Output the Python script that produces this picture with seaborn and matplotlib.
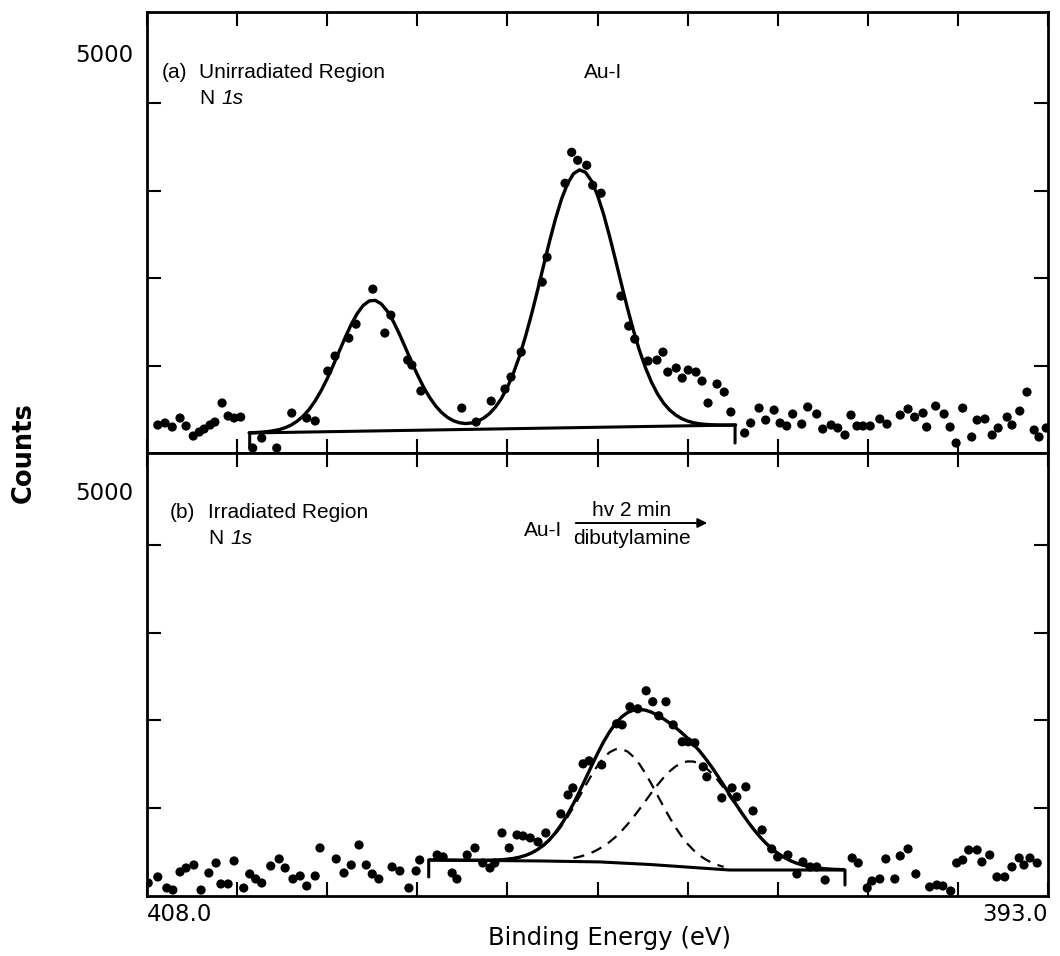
import matplotlib
matplotlib.use("Agg")
import matplotlib.pyplot as plt
import seaborn as sns

# ---------------- data ----------------
# (a) unirradiated region, measured points
top_ev = [407.82, 407.70, 407.58, 407.45, 407.35, 407.23, 407.13, 407.05, 406.95, 406.87, 406.75, 406.65, 406.55, 406.44,
          406.24, 406.09, 405.84, 405.59, 405.34, 405.20,
          404.99, 404.87, 404.64, 404.52, 404.24, 404.04, 403.94, 403.66, 403.59, 403.44,
          402.76, 402.52, 402.27, 402.04, 401.94, 401.77, 401.42, 401.34, 401.04, 400.93, 400.83, 400.68, 400.58, 400.44,
          400.11, 399.98, 399.88, 399.66, 399.51, 399.41, 399.33, 399.19, 399.09, 398.99, 398.86, 398.76, 398.66, 398.51, 398.39, 398.28,
          398.05, 397.95, 397.81, 397.70,
          397.56, 397.46, 397.35, 397.25, 397.10, 397.00, 396.85, 396.75, 396.61, 396.50, 396.38, 396.28, 396.18, 396.08, 395.96,
          395.80, 395.68, 395.46, 395.33, 395.22, 395.08, 395.02, 394.87, 394.73, 394.63, 394.53, 394.42, 394.27, 394.18, 394.05,
          393.93, 393.83, 393.68, 393.60, 393.47, 393.35, 393.23, 393.15, 393.03]
top_counts = [320, 343, 297, 400, 309, 194, 240, 274, 320, 354, 572, 423, 400, 411,
              57, 171, 57, 457, 400, 366,
              937, 1109, 1314, 1474, 1875, 1372, 1577, 1063, 1006, 709,
              514, 354, 594, 732, 869, 1154, 1955, 2240, 3086, 3440, 3349, 3292, 3063, 2972,
              1795, 1452, 1303, 1052, 1063, 1154, 926, 972, 857, 949, 926, 823, 572, 789, 697, 469,
              229, 343, 514, 377,
              491, 343, 309, 446, 331, 526, 446, 274, 320, 286, 206, 434, 309, 309, 309,
              389, 331, 434, 503, 411, 457, 297, 537, 446, 297, 114, 514, 183, 377, 389,
              206, 286, 411, 320, 480, 697, 263, 183, 286]

# (a) fitted envelope
top_fit_ev = [406.3, 406.2, 406.1, 406.0, 405.9, 405.8, 405.7, 405.6, 405.5, 405.4,
              405.3, 405.2, 405.1, 405.0, 404.9, 404.8, 404.7, 404.6, 404.5, 404.4,
              404.3, 404.2, 404.1, 404.0, 403.9, 403.8, 403.7, 403.6, 403.5, 403.4,
              403.3, 403.2, 403.1, 403.0, 402.9, 402.8, 402.7, 402.6, 402.5, 402.4,
              402.3, 402.2, 402.1, 402.0, 401.9, 401.8, 401.7, 401.6, 401.5, 401.4,
              401.3, 401.2, 401.1, 401.0, 400.9, 400.8, 400.7, 400.6, 400.5, 400.4,
              400.3, 400.2, 400.1, 400.0, 399.9, 399.8, 399.7, 399.6, 399.5, 399.4,
              399.3, 399.2, 399.1, 399.0, 398.9, 398.8, 398.7, 398.6, 398.5, 398.4,
              398.3, 398.2]
top_fit_counts = [231, 234, 238, 244, 254, 268, 289, 320, 364, 422,
                  499, 597, 714, 851, 1003, 1163, 1323, 1471, 1596, 1689,
                  1740, 1746, 1706, 1623, 1506, 1364, 1208, 1049, 898, 760,
                  641, 543, 466, 409, 369, 346, 337, 343, 362, 397,
                  450, 524, 624, 752, 913, 1105, 1330, 1582, 1855, 2138,
                  2417, 2677, 2903, 3080, 3195, 3239, 3211, 3112, 2949, 2735,
                  2482, 2208, 1927, 1653, 1398, 1170, 973, 808, 675, 571,
                  492, 435, 394, 365, 346, 334, 327, 323, 321, 320,
                  320, 321]
top_base_ev = [406.29, 406.29, 398.21, 398.21]
top_base_counts = [69, 229, 320, 114]

# (b) irradiated region, measured points
bot_ev = [407.98, 407.82, 407.67, 407.57, 407.45, 407.35, 407.22, 407.10, 406.97, 406.85, 406.77, 406.65, 406.55, 406.39,
          406.29, 406.19, 406.09, 405.94, 405.80, 405.70, 405.57, 405.45, 405.34, 405.20, 405.12, 404.85, 404.72, 404.60,
          404.47, 404.35, 404.25, 404.14, 403.92, 403.79, 403.64, 403.52, 403.46,
          403.17, 403.07, 402.92, 402.84, 402.67, 402.54, 402.41, 402.29, 402.21, 402.09, 401.97, 401.84, 401.74, 401.62,
          401.49, 401.36, 401.11, 400.99, 400.91, 400.74, 400.64, 400.43, 400.18, 400.09, 399.96, 399.83, 399.69, 399.58,
          399.48, 399.36, 399.24, 399.09, 398.99, 398.88, 398.74, 398.68, 398.43, 398.26, 398.18, 398.03, 397.91, 397.76,
          397.60, 397.50, 397.33, 397.18, 397.08, 396.96, 396.85, 396.71,
          396.26, 396.16, 396.01, 395.93, 395.80, 395.70, 395.55, 395.46, 395.33, 395.20, 394.97, 394.85, 394.75, 394.62,
          394.52, 394.42, 394.32, 394.18, 394.10, 393.97, 393.85, 393.72, 393.60, 393.48, 393.40, 393.30, 393.18]
bot_counts = [148, 217, 91, 68, 274, 319, 353, 68, 262, 376, 137, 137, 399, 91,
              251, 194, 148, 342, 422, 319, 194, 228, 114, 228, 547, 422, 262, 353,
              581, 353, 251, 194, 331, 285, 91, 285, 410,
              467, 445, 262, 194, 467, 547, 376, 319, 376, 718, 547, 695, 684, 661,
              616, 718, 935, 1151, 1231, 1505, 1539, 1493, 1961, 1949, 2155, 2132, 2337, 2212,
              2052, 2212, 1949, 1756, 1756, 1744, 1471, 1357, 1117, 1231, 1129, 1243, 969, 752,
              536, 445, 467, 251, 388, 331, 331, 182,
              433, 376, 91, 171, 194, 422, 194, 456, 536, 251, 103, 125, 114, 57,
              376, 410, 524, 524, 388, 467, 217, 217, 331, 433, 353, 433, 376]

# (b) fitted envelope
bot_fit_ev = [403.3, 403.2, 403.1, 403.0, 402.9, 402.8, 402.7, 402.6, 402.5, 402.4,
              402.3, 402.2, 402.1, 402.0, 401.9, 401.8, 401.7, 401.6, 401.5, 401.4,
              401.3, 401.2, 401.1, 401.0, 400.9, 400.8, 400.7, 400.6, 400.5, 400.4,
              400.3, 400.2, 400.1, 400.0, 399.9, 399.8, 399.7, 399.6, 399.5, 399.4,
              399.3, 399.2, 399.1, 399.0, 398.9, 398.8, 398.7, 398.6, 398.5, 398.4,
              398.3, 398.2, 398.1, 398.0, 397.9, 397.8, 397.7, 397.6, 397.5, 397.4,
              397.3, 397.2, 397.1, 397.0, 396.9, 396.8, 396.7, 396.6, 396.5, 396.4]
bot_fit_counts = [410, 410, 409, 408, 408, 407, 407, 407, 407, 407,
                  408, 410, 413, 419, 428, 442, 462, 490, 528, 578,
                  641, 720, 816, 927, 1053, 1190, 1334, 1480, 1622, 1754,
                  1869, 1964, 2038, 2089, 2117, 2125, 2116, 2093, 2058, 2017,
                  1970, 1918, 1860, 1797, 1727, 1650, 1564, 1470, 1369, 1263,
                  1154, 1050, 948, 850, 759, 677, 604, 540, 487, 442,
                  406, 377, 355, 338, 326, 316, 310, 305, 302, 300]
# (b) first fitted component (dashed)
comp1_ev = [402.0, 401.9, 401.8, 401.7, 401.6, 401.5, 401.4, 401.3, 401.2, 401.1,
            401.0, 400.9, 400.8, 400.7, 400.6, 400.5, 400.4, 400.3, 400.2, 400.1,
            400.0, 399.9, 399.8, 399.7, 399.6, 399.5, 399.4, 399.3, 399.2, 399.1,
            399.0, 398.9, 398.8, 398.7, 398.6, 398.5, 398.4]
comp1_counts = [419, 428, 441, 460, 488, 524, 572, 633, 708, 797,
                899, 1013, 1134, 1257, 1376, 1484, 1573, 1636, 1671, 1674,
                1645, 1585, 1500, 1394, 1273, 1145, 1017, 894, 780, 680,
                593, 521, 462, 416, 380, 353, 332]
# (b) second fitted component (dashed)
comp2_ev = [400.9, 400.8, 400.7, 400.6, 400.5, 400.4, 400.3, 400.2, 400.1, 400.0,
            399.9, 399.8, 399.7, 399.6, 399.5, 399.4, 399.3, 399.2, 399.1, 399.0,
            398.9, 398.8, 398.7, 398.6, 398.5, 398.4, 398.3, 398.2, 398.1, 398.0,
            397.9, 397.8, 397.7, 397.6, 397.5, 397.4, 397.3, 397.2]
comp2_counts = [432, 447, 467, 493, 527, 567, 615, 672, 740, 816,
                900, 990, 1083, 1177, 1266, 1348, 1420, 1476, 1515, 1533,
                1531, 1507, 1462, 1400, 1322, 1232, 1135, 1037, 940, 846,
                757, 675, 603, 540, 486, 442, 406, 377]
bot_base_ev = [403.31, 403.31, 403.26, 401.46, 400.46, 399.63, 398.79, 398.30, 396.38, 396.38]
bot_base_counts = [217, 410, 410, 399, 388, 359, 319, 296, 296, 125]

x_ticks = [408.0, 406.5, 405.0, 403.5, 402.0, 400.5, 399.0, 397.5, 396.0, 394.5, 393.0]
x_ticklabels = ['408.0', '', '', '', '', '', '', '', '', '', '393.0']
y_ticks = [1000, 2000, 3000, 4000]

# ---------------- figure ----------------
sns.set_theme(style="white")
plt.rcParams['font.family'] = ['DejaVu Sans']
for k in ('text.color', 'axes.labelcolor', 'xtick.color', 'ytick.color', 'axes.edgecolor'):
    plt.rcParams[k] = 'black'

fig = plt.figure(figsize=(10.6, 9.56), dpi=100)
axt = fig.add_axes([0.13868, 0.52615, 0.85, 0.4613])
axb = fig.add_axes([0.13868, 0.06276, 0.85, 0.46339])

dot = dict(color='black', s=44, edgecolor='none', linewidth=0, zorder=3)
sns.scatterplot(x=top_ev, y=top_counts, ax=axt, **dot)
sns.scatterplot(x=bot_ev, y=bot_counts, ax=axb, **dot)

kw = dict(estimator=None, sort=False, color='black')
sns.lineplot(x=top_base_ev, y=top_base_counts, ax=axt, lw=2.2, **kw)
sns.lineplot(x=top_fit_ev, y=top_fit_counts, ax=axt, lw=2.4, **kw)
sns.lineplot(x=bot_base_ev, y=bot_base_counts, ax=axb, lw=2.2, **kw)
sns.lineplot(x=bot_fit_ev, y=bot_fit_counts, ax=axb, lw=2.4, **kw)
sns.lineplot(x=comp1_ev, y=comp1_counts, ax=axb, lw=1.6, **kw)
axb.lines[-1].set_dashes([5, 3.5])
sns.lineplot(x=comp2_ev, y=comp2_counts, ax=axb, lw=1.6, **kw)
axb.lines[-1].set_dashes([5, 3.5])

for ax in (axt, axb):
    ax.set_xlim(408.0, 393.0)
    ax.set_ylim(0, 5045)
    ax.set_xticks(x_ticks)
    ax.set_yticks(y_ticks)
    ax.set_yticklabels([])
    ax.set_xlabel('')
    ax.set_ylabel('')
    for sp in ax.spines.values():
        sp.set_linewidth(2.0)
        sp.set_color('black')
    ax.tick_params(axis='both', which='both', direction='in', top=True, bottom=True,
                   left=True, right=True, length=10, width=1.5, color='black')

axt.set_xticklabels([])
axb.set_xticklabels(x_ticklabels, fontsize=16.5, family='DejaVu Sans')
axb.tick_params(axis='x', pad=5)
tl = axb.get_xticklabels()
tl[0].set_ha('left')
tl[-1].set_ha('right')

W, H = 1060.0, 956.0
def ft(x, y, s, **k):
    fig.text(x / W, 1 - y / H, s, **k)

lab = dict(family=['Liberation Sans', 'DejaVu Sans'], fontsize=15, va='center')
ft(162, 73, '(a)', ha='left', **lab)
ft(199, 73, 'Unirradiated Region', ha='left', **lab)
ft(199, 98, 'N', ha='left', **lab)
ft(221, 98, '1s', ha='left', style='italic', **lab)
ft(584, 72, 'Au-I', ha='left', **lab)

ft(170, 513, '(b)', ha='left', **lab)
ft(208, 513, 'Irradiated Region', ha='left', **lab)
ft(208, 539, 'N', ha='left', **lab)
ft(230, 539, '1s', ha='left', style='italic', **lab)
ft(562, 530, 'Au-I', ha='right', **lab)
ft(632, 511, 'hv 2 min', ha='center', **lab)
ft(632, 538, 'dibutylamine', ha='center', **lab)
fig.add_artist(matplotlib.patches.FancyArrowPatch((573 / W, 1 - 523 / H), (710 / W, 1 - 523 / H),
               transform=fig.transFigure, arrowstyle='-|>', mutation_scale=14, lw=1.4, color='black'))

num = dict(family='DejaVu Sans', fontsize=16.5, va='center', ha='right')
ft(133, 55, '5000', **num)
ft(133, 493, '5000', **num)
ft(24, 453, 'Counts', rotation=90, ha='center', va='center', family='DejaVu Sans', fontsize=18.5, fontweight='bold')
ft(609, 938, 'Binding Energy (eV)', ha='center', va='center', family='DejaVu Sans', fontsize=17.5)

fig.savefig('out.png', dpi=100)
